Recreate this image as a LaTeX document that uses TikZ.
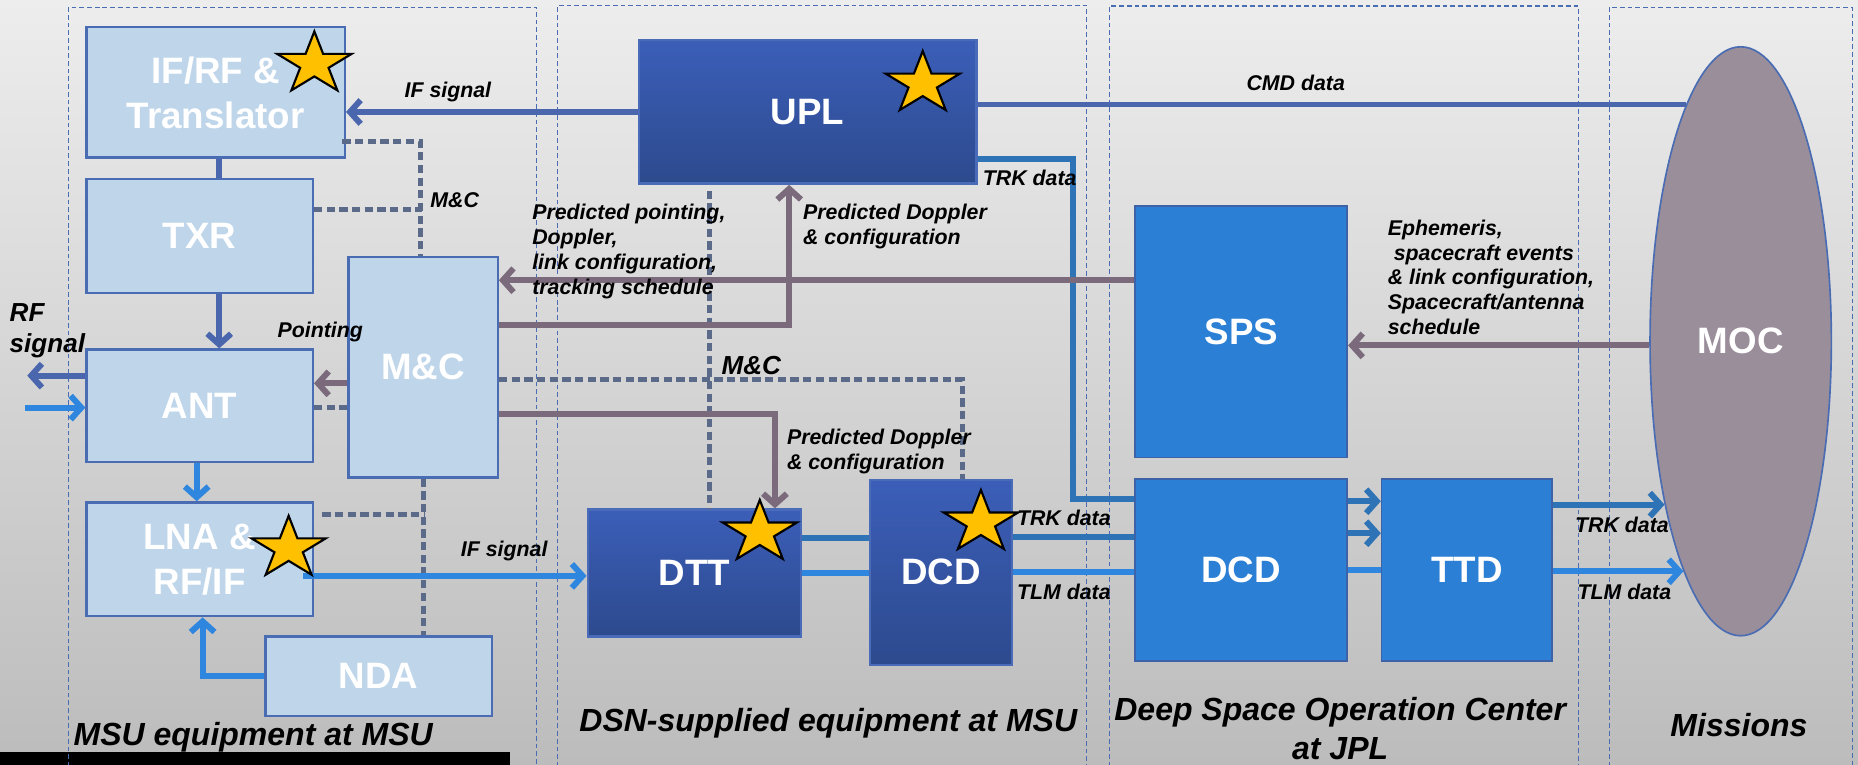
\documentclass[tikz,border=0pt]{standalone}
\usepackage{fontspec}
\setmainfont{Liberation Sans}
\usetikzlibrary{arrows.meta,shapes.geometric,calc}
\definecolor{bgtop}{HTML}{EDEDED}
\definecolor{bgbot}{HTML}{BCBCBC}
\definecolor{lfill}{HTML}{BED5EA}
\definecolor{lbord}{HTML}{4A6CB3}
\definecolor{dtop}{HTML}{3B5EB8}
\definecolor{dbot}{HTML}{2D4A8E}
\definecolor{dbord}{HTML}{4A6CB8}
\definecolor{bfill}{HTML}{2B7FD4}
\definecolor{bbord}{HTML}{3D62A8}
\definecolor{mocfill}{HTML}{9B8E9B}
\definecolor{mauveline}{HTML}{7A6A7B}
\definecolor{dotc}{HTML}{5A6A88}
\definecolor{blueline}{HTML}{4A67AE}
\definecolor{brightline}{HTML}{2E86DE}
\definecolor{steelline}{HTML}{2E73B5}
\definecolor{regc}{HTML}{4A6CB3}
\definecolor{staryel}{HTML}{FFC000}
\newcommand\myboxfont{\fontsize{31}{38}\selectfont\bfseries}
\newcommand\mysecfont{\fontsize{27}{32.5}\selectfont\bfseries\itshape}
\newcommand\mylblfont{\fontsize{18}{21}\selectfont\bfseries\itshape}
\newcommand\mybiglbl{\fontsize{22}{26}\selectfont\bfseries\itshape}
\tikzset{
 lb/.style={draw=lbord, line width=2pt, fill=lfill, inner sep=0pt, text=white, font=\myboxfont, align=center},
 db/.style={draw=dbord, line width=2pt, top color=dtop, bottom color=dbot, inner sep=0pt, text=white, font=\myboxfont, align=center},
 bb/.style={draw=bbord, line width=1.4pt, fill=bfill, inner sep=0pt, text=white, font=\myboxfont, align=center},
 ystar/.style={star, star points=5, star point ratio=2.618, minimum size=55pt, inner sep=0pt, fill=staryel, draw=black, line width=1.8pt, xscale=1.2},
 region/.style={draw=regc, line width=1pt, dash pattern=on 4pt off 2.5pt},
 tip/.style={-{Straight Barb[length=9pt,width=20pt]}},
 ln/.style={line width=5pt},
 blueln/.style={ln, draw=blueline},
 brightln/.style={ln, draw=brightline},
 steelln/.style={ln, draw=steelline},
 mauveln/.style={ln, draw=mauveline},
 mcdot/.style={draw=dotc, line width=4.2pt, dash pattern=on 7pt off 3.7pt},
 lbl/.style={font=\mylblfont, text=black, inner sep=0pt, align=left},
 sec/.style={font=\mysecfont, text=black, inner sep=0pt, align=center},
}
\begin{document}
\begin{tikzpicture}[x=1pt,y=-1pt]
\useasboundingbox (0,0) rectangle (1568,645);
\shade[top color=bgtop, bottom color=bgbot] (0,0) rectangle (1568,645);
\fill[black] (0,635) rectangle (430,646);

% regions
\draw[region] (58,660) -- (58,6) -- (453,6) -- (453,660);
\draw[region] (470.7,660) -- (470.7,4.5) -- (917,4.5) -- (917,660);
\draw[region] (936.5,660) -- (936.5,5) -- (1332,5) -- (1332,660);
\draw[region] (1358,660) -- (1358,6) -- (1563,6) -- (1563,660);

% boxes
\node[lb, minimum width=218pt, minimum height=110pt] (ifrf) at (182,78) {IF/RF \&\\Translator};
\node[lb, minimum width=191pt, minimum height=96pt] (txr) at (168.5,199) {TXR};
\node[lb, minimum width=126pt, minimum height=186pt] (mc) at (357,310) {M\&C};
\node[lb, minimum width=191pt, minimum height=95pt] (ant) at (168.5,342.5) {ANT};
\node[lb, minimum width=191pt, minimum height=96pt] (lna) at (168.5,472) {LNA \&\\RF/IF};
\node[lb, minimum width=191pt, minimum height=67pt] (nda) at (319.5,570.5) {NDA};
\node[db, minimum width=285pt, minimum height=121pt] (upl) at (681.5,94.5) {UPL};
\node[db, minimum width=180pt, minimum height=107pt] (dtt) at (586,483.5) {DTT};
\node[db, minimum width=120pt, minimum height=156pt] (dcda) at (794,483) {DCD};
\node[bb, minimum width=179pt, minimum height=212pt] (sps) at (1047.5,280) {SPS};
\node[bb, minimum width=179pt, minimum height=154pt] (dcdb) at (1047.5,481) {DCD};
\node[bb, minimum width=144pt, minimum height=154pt] (ttd) at (1238,481) {TTD};
\node[ellipse, minimum width=153pt, minimum height=497pt, inner sep=0pt, fill=mocfill, draw=lbord, line width=1.4pt, text=white, font=\myboxfont] (moc) at (1469,288) {MOC};

\coordinate (rfout) at (23,317);
\coordinate (rfin) at (21,344);

% dotted M&C links
\draw[mcdot] ($(ifrf.east)+(-3,41.5)$) -| ($(mc.north)+(-2,0)$);
\draw[mcdot] ($(txr.east)+(0,-22)$) -- ++(91,0);
\draw[mcdot] ($(ant.east)+(0,1)$) -- ($(mc.west)+(0,33.5)$);
\draw[mcdot] (mc.south) -- ($(nda.north)+(37.5,0)$);
\draw[mcdot] ($(lna.east)+(7,-38)$) -- ++(86,0);
\draw[mcdot] ($(mc.east)+(0,10.5)$) -| ($(dcda.north)+(18,0)$);
\draw[mcdot] ($(upl.south)+(-82.5,5)$) -- ($(dtt.north)+(13,0)$);

% signal connectors
\draw[blueln, tip] (upl.west) -- (ifrf.east |- upl.west);
\draw[blueln] (moc.103) -- (upl.east |- moc.103);
\draw[steelln] ($(upl.south east)+(0,-22)$) -- ++(80.5,0) |- ($(dcdb.north west)+(0,18)$);
\draw[steelln] ($(dcda.east)+(0,-30)$) -- ($(dcdb.west)+(0,-28)$);
\draw[brightln] (dcda.east) -- ($(dcdb.west)+(0,2)$);
\draw[steelln] ($(dtt.east)+(0,-29.5)$) -- ($(dcda.west)+(0,-29)$);
\draw[brightln] (dtt.east) -- (dcda.west |- dtt.east);
\draw[steelln, tip] ($(dcdb.east)+(0,-58)$) -- ($(ttd.west)+(0,-58)$);
\draw[steelln, tip] ($(dcdb.east)+(0,-31)$) -- ($(ttd.west)+(0,-31)$);
\draw[brightln] (dcdb.east) -- (ttd.west);
\draw[steelln, tip] (ttd.east |- moc.245) -- (moc.245);
\draw[brightln, tip] (ttd.east |- moc.256) -- (moc.256);
\draw[brightln, tip] ($(lna.east)+(-9,14)$) -- ($(dtt.west)+(0,2.5)$);
\draw[blueln, tip] ($(ant.west)+(0,-25.5)$) -- (rfout);
\draw[brightln, tip] (rfin) -- ($(ant.west)+(0,1.5)$);
\draw[blueln] ($(ifrf.south)+(3,0)$) -- ($(txr.north)+(16.5,0)$);
\draw[blueln, tip] ($(txr.south)+(16.5,0)$) -- ($(ant.north)+(16.5,0)$);
\draw[brightln, tip] ($(ant.south)+(-2.5,0)$) -- ($(lna.north)+(-2.5,0)$);
\draw[brightln, tip] (nda.west) -| ($(lna.south)+(2.5,0)$);
\draw[mauveln, tip] ($(mc.west)+(0,13.5)$) -- ($(ant.east)+(0,-19)$);
\draw[mauveln, tip] ($(sps.west)+(0,-43.5)$) -- ($(mc.east)+(0,-73.5)$);
\draw[mauveln, tip] ($(mc.east)+(0,-36)$) -| ($(upl.south)+(-15.5,0)$);
\draw[mauveln, tip] ($(mc.east)+(0,39)$) -| ($(dtt.north)+(68,0)$);
\draw[mauveln, tip] ($(moc.west)+(0,3.5)$) -- ($(sps.east)+(0,11.5)$);

% stars
\node[ystar] (s1) at (265.3,54) {};
\node[ystar] (s2) at (778.7,70.6) {};
\node[ystar] (s3) at (641.2,449.4) {};
\node[ystar] (s4) at (827.8,441) {};
\node[ystar] (s5) at (243.6,462.8) {};

% labels
\node[lbl] (l1) at (378,78) {IF signal};
\node[lbl] (l2) at (1093.5,70) {CMD data};
\node[lbl] (l3) at (869,150.5) {TRK data};
\node[lbl] (l4) at (383.7,168.8) {M\&C};
\node[lbl, font=\mybiglbl] (l5) at (634,308.6) {M\&C};
\node[lbl] (l6) at (270.3,280) {Pointing};
\node[lbl, anchor=west] (l7) at (449,212) {Predicted pointing,\\Doppler,\\link configuration,\\tracking schedule};
\node[lbl, anchor=west] (l8) at (677.6,191) {Predicted Doppler\\\& configuration};
\node[lbl, anchor=west] (l9) at (664,381) {Predicted Doppler\\\& configuration};
\node[lbl, anchor=west] (l10) at (1171,234) {Ephemeris,\\\hspace*{5pt}spacecraft events\\\& link configuration,\\Spacecraft/antenna\\schedule};
\node[lbl] (l11) at (425.5,464.7) {IF signal};
\node[lbl] (l12) at (897.8,437.4) {TRK data};
\node[lbl] (l13) at (897.8,499.3) {TLM data};
\node[lbl] (l14) at (1368.8,443) {TRK data};
\node[lbl] (l15) at (1370.8,499.3) {TLM data};
\node[lbl, anchor=west, font=\mybiglbl] (l16) at (8,279) {RF\\signal};

\node[sec] (r1) at (213.7,622.5) {MSU equipment at MSU};
\node[sec] (r2) at (699,610.4) {DSN-supplied equipment at MSU};
\node[sec] (r3) at (1131,615) {Deep Space Operation Center\\at JPL};
\node[sec] (r4) at (1467.5,611.8) {Missions};
\end{tikzpicture}
\end{document}
